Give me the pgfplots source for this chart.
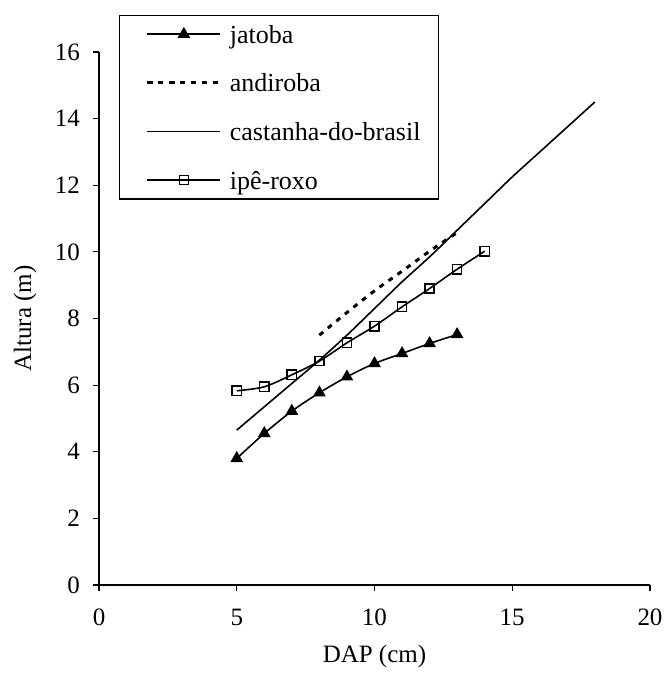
\documentclass[border=0pt]{standalone}
\usepackage{pgfplots}
\pgfplotsset{compat=1.18}
\usepackage{fontspec}
\setmainfont{Liberation Serif}
\begin{document}
\begin{tikzpicture}
\useasboundingbox (-49.5pt,-45pt) rectangle (282.5pt,292.5pt);
\begin{axis}[
  at={(0,0)}, anchor=south west,
  scale only axis, width=275.5pt, height=266.5pt,
  xmin=0, xmax=20, ymin=0, ymax=16,
  axis x line=bottom, axis y line=left,
  axis line style={-, line width=0.6pt},
  xtick={0,5,...,20}, ytick={0,2,...,16},
  tick align=outside, major tick length=3pt,
  tick style={line width=0.6pt, black},
  /pgf/number format/assume math mode=true,
  tick label style={font=\fontsize{12.5}{14}\selectfont},
  xticklabel style={yshift=-5.5pt},
  yticklabel style={xshift=-3pt},
  xlabel={DAP (cm)}, ylabel={Altura (m)},
  label style={font=\fontsize{12.5}{14}\selectfont},
  xlabel style={at={(axis description cs:0.5,-0.135)}, anchor=center},
  ylabel style={at={(axis description cs:-0.134,0.5)}, anchor=center},
  legend style={at={(rel axis cs:0.0368,1.07)}, anchor=north west,
    draw=black, line width=0.6pt,
    font=\fontsize{13}{15}\selectfont,
    inner xsep=9pt, inner ysep=3.5pt, row sep=12.3pt,
    nodes={inner sep=0pt, text height=10.5pt, text depth=1.5pt},
    column sep=4pt},
  legend cell align=left,
  legend image code/.code={
    \path (-4pt,0pt);
    \draw[mark repeat=2,mark phase=2,#1] plot coordinates {(0pt,0pt) (18.25pt,0pt) (36.5pt,0pt)};
  },
  clip=false,
]
\addplot[black, line width=0.8pt, smooth, mark=triangle*, mark size=2.9pt, mark options={solid, fill=black}]
  coordinates {(5,3.80) (6,4.55) (7,5.22) (8,5.77) (9,6.25) (10,6.65) (11,6.95) (12,7.25) (13,7.52)};
\addlegendentry{jatoba}
\addplot[black, line width=1.5pt, dash pattern=on 2.5pt off 3pt, smooth]
  coordinates {(8,7.50) (9,8.18) (10,8.83) (11,9.42) (12,10.02) (13,10.58)};
\addlegendentry{andiroba}
\addplot[black, line width=0.8pt, smooth]
  coordinates {(5,4.65) (6,5.35) (7,6.05) (8,6.75) (9,7.50) (10,8.30) (11,9.10) (12,9.85) (13,10.65) (14,11.45) (15,12.25) (16,13.00) (17,13.75) (18,14.50)};
\addlegendentry{castanha-do-brasil}
\addplot[black, line width=0.8pt, smooth, mark=square, mark size=2.3pt, mark options={solid, fill=white, line width=0.75pt}]
  coordinates {(5,5.83) (6,5.95) (7,6.31) (8,6.72) (9,7.27) (10,7.77) (11,8.35) (12,8.90) (13,9.48) (14,10.02)};
\addlegendentry{ipê-roxo}
\end{axis}
\end{tikzpicture}
\end{document}
